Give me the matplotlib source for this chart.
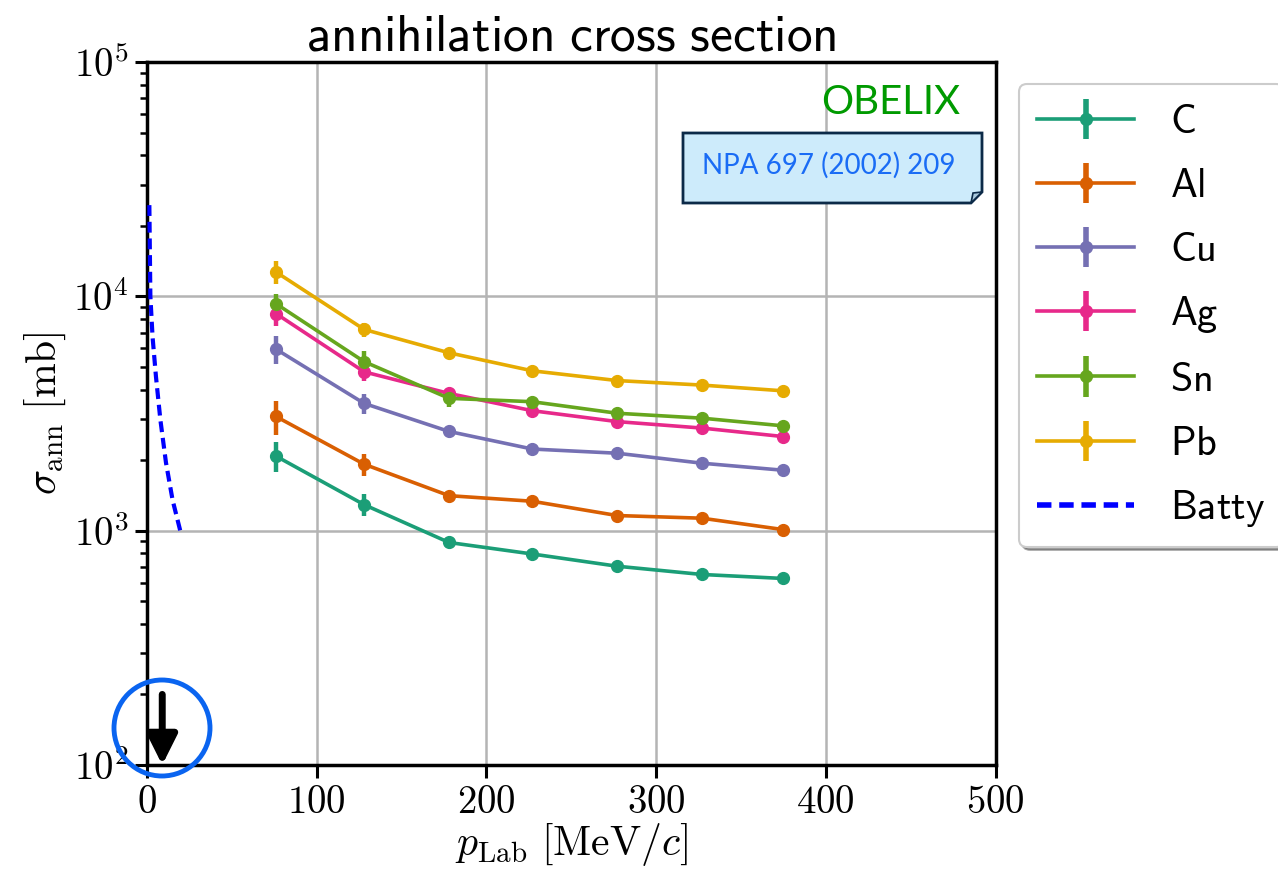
import math

import matplotlib
matplotlib.use("Agg")
import matplotlib.pyplot as plt
from matplotlib.patches import Ellipse, Polygon
from matplotlib.ticker import FixedLocator, FuncFormatter, LogLocator, NullFormatter

plt.rcParams["mathtext.fontset"] = "cm"
plt.rcParams["font.family"] = "DejaVu Sans"

# momentum points [MeV/c]
p_lab = [76, 128, 178, 227, 277, 327, 375]

# annihilation cross sections [mb]
sigma_C = [2080, 1290, 890, 795, 705, 650, 625]
err_C = [300, 140, 35, 30, 20, 18, 15]
sigma_Al = [3070, 1920, 1410, 1335, 1160, 1130, 1010]
err_Al = [500, 210, 50, 40, 35, 35, 30]
sigma_Cu = [5950, 3490, 2650, 2230, 2140, 1940, 1810]
err_Cu = [800, 350, 90, 70, 60, 60, 55]
sigma_Ag = [8440, 4760, 3850, 3250, 2920, 2740, 2520]
err_Ag = [1000, 400, 120, 100, 90, 80, 75]
sigma_Sn = [9300, 5260, 3670, 3550, 3170, 3020, 2800]
err_Sn = [900, 600, 300, 150, 100, 90, 85]
sigma_Pb = [12700, 7220, 5740, 4810, 4370, 4180, 3950]
err_Pb = [1400, 500, 150, 130, 120, 110, 100]

labels = ["C", "Al", "Cu", "Ag", "Sn", "Pb"]
colors = ["#1b9e77", "#d95f02", "#7570b3", "#e7298a", "#66a61e", "#e6ab02"]

# Batty curve (dashed)
batty_p = [1.4, 2.0, 3.3, 5.3, 7.9, 11.2, 15.1, 19.6]
batty_sigma = [24500, 10000, 6700, 4540, 2970, 1950, 1350, 1000]

fig = plt.figure(figsize=(12.78, 8.82), dpi=100)
ax = fig.add_axes([0.115, 0.1327, 0.664, 0.797])

series = [
    (sigma_C, err_C), (sigma_Al, err_Al), (sigma_Cu, err_Cu),
    (sigma_Ag, err_Ag), (sigma_Sn, err_Sn), (sigma_Pb, err_Pb),
]
handles = []
for (y, e), lab, col in zip(series, labels, colors):
    h = ax.errorbar(p_lab, y, yerr=e, color=col, lw=2.6, elinewidth=3.2, capsize=0,
                    marker="o", ms=8.5, label=r"$\mathsf{%s}$" % lab, zorder=3)
    handles.append(h)

batty_line, = ax.plot(batty_p, batty_sigma, "--", color="#0000ff", lw=3, dashes=(2.6, 1.4),
                      label=r"$\mathsf{Batty}$", zorder=3)
handles.append(batty_line)

ax.set_yscale("log")
ax.set_xlim(0, 500)
ax.set_ylim(1e2, 1e5)
ax.xaxis.set_major_locator(FixedLocator([0, 100, 200, 300, 400, 500]))
ax.xaxis.set_major_formatter(FuncFormatter(lambda v, _: r"$%d$" % v))
ax.yaxis.set_major_locator(LogLocator(base=10))
ax.yaxis.set_major_formatter(FuncFormatter(lambda v, _: r"$10^{%d}$" % round(math.log10(v))))
ax.yaxis.set_minor_locator(LogLocator(base=10, subs=range(2, 10)))
ax.yaxis.set_minor_formatter(NullFormatter())
ax.tick_params(which="major", direction="out", length=9, width=2.2, labelsize=28, pad=4)
ax.tick_params(which="minor", direction="out", length=5, width=1.8)
ax.grid(True, which="major", color="#b4b4b4", lw=1.8)
ax.set_axisbelow(True)
for s in ax.spines.values():
    s.set_linewidth(2.5)

ax.set_xlabel(r"$p_\mathrm{Lab}\ [\mathrm{MeV}/c]$", fontsize=30, labelpad=0)
ax.set_ylabel(r"$\sigma_\mathrm{ann}\ [\mathrm{mb}]$", fontsize=30, labelpad=4)
ax.set_title(r"$\mathsf{annihilation\ cross\ section}$", fontsize=37, pad=8)

leg = ax.legend(handles=handles, loc="upper left", bbox_to_anchor=(1.028, 0.969),
                borderaxespad=0, fontsize=29, fancybox=True, shadow=True,
                handlelength=2.4, handletextpad=0.9, labelspacing=0.6, borderpad=0.45,
                framealpha=1)
leg.get_frame().set_linewidth(1.5)
leg.get_frame().set_edgecolor("#cccccc")
for h in leg.legend_handles:
    h.set_linewidth(4)

# upper-limit arrow near p = 0
ax.annotate("", xy=(9, 100), xytext=(9, 200),
            arrowprops=dict(arrowstyle="-|>,head_width=0.45,head_length=0.9",
                            lw=5, color="black", mutation_scale=20, shrinkA=0, shrinkB=0),
            zorder=5, annotation_clip=False)

W, H = 1278.0, 882.0
fig.patches.append(Ellipse((162 / W, 1 - 728 / H), 96 / W, 96 / H, transform=fig.transFigure,
                           fill=False, edgecolor="#0a64f0", lw=3.5, zorder=6))

# OBELIX tag and reference note
fig.text(960 / W, 1 - 102 / H, "OBELIX", color="#009a00", fontsize=29, family="Lato",
         ha="right", va="center")
note = [(683, 133), (982, 133), (982, 192), (971, 203), (683, 203)]
fig.patches.append(Polygon([(x / W, 1 - y / H) for x, y in note], closed=True,
                           transform=fig.transFigure, facecolor="#cdebfb",
                           edgecolor="#0c2a48", lw=2, zorder=6))
fold = [(982, 192), (971, 203), (973, 193)]
fig.patches.append(Polygon([(x / W, 1 - y / H) for x, y in fold], closed=True,
                           transform=fig.transFigure, facecolor="#a8c8dc",
                           edgecolor="#0c2a48", lw=1.2, zorder=7))
fig.text(829 / W, 1 - 165 / H, "NPA 697 (2002) 209", color="#1a6cf5", fontsize=20,
         family="Lato", ha="center", va="center", zorder=8)

fig.savefig("out.png", dpi=100)
